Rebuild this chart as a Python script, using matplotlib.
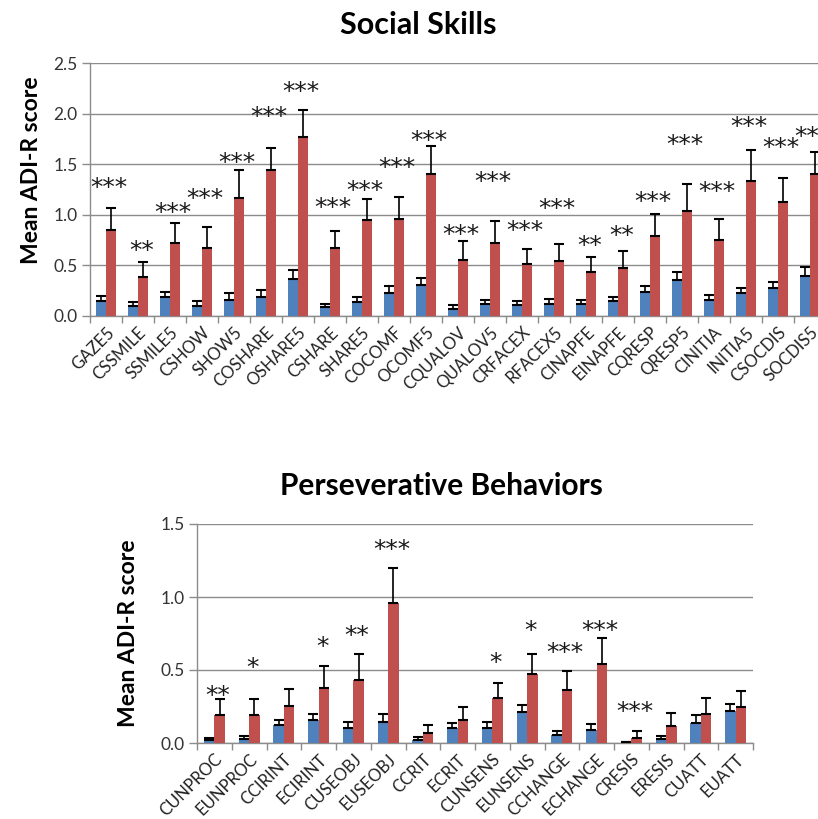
import numpy as np
import matplotlib
matplotlib.use("Agg")
import matplotlib.pyplot as plt
from matplotlib.ticker import FixedLocator

plt.rcParams['font.family'] = ['Lato', 'DejaVu Sans']

# ---- Social Skills data ----
social_labels = ["GAZE5", "CSSMILE", "SSMILE5", "CSHOW", "SHOW5", "COSHARE", "OSHARE5",
                 "CSHARE", "SHARE5", "COCOMF", "OCOMF5", "CQUALOV", "QUALOV5", "CRFACEX",
                 "RFACEX5", "CINAPFE", "EINAPFE", "CQRESP", "QRESP5", "CINITIA", "INITIA5",
                 "CSOCDIS", "SOCDIS5"]
social_blue = [0.15, 0.10, 0.19, 0.10, 0.16, 0.19, 0.37, 0.09, 0.14, 0.23, 0.31, 0.07,
               0.12, 0.11, 0.12, 0.12, 0.15, 0.24, 0.36, 0.16, 0.23, 0.28, 0.40]
social_blue_err = [0.05, 0.035, 0.05, 0.05, 0.065, 0.065, 0.08, 0.03, 0.05, 0.065, 0.07, 0.04,
                   0.04, 0.04, 0.05, 0.04, 0.035, 0.055, 0.07, 0.05, 0.05, 0.055, 0.08]
social_red = [0.85, 0.39, 0.72, 0.67, 1.17, 1.44, 1.77, 0.67, 0.95, 0.96, 1.40, 0.55,
              0.72, 0.51, 0.54, 0.43, 0.47, 0.79, 1.04, 0.75, 1.33, 1.13, 1.40]
social_red_err = [0.22, 0.14, 0.20, 0.21, 0.27, 0.22, 0.27, 0.17, 0.21, 0.22, 0.28, 0.19,
                  0.22, 0.15, 0.17, 0.15, 0.17, 0.22, 0.26, 0.21, 0.31, 0.23, 0.22]
social_sig = ["***", "**", "***", "***", "***", "***", "***", "***", "***", "***", "***", "***",
              "***", "***", "***", "**", "**", "***", "***", "***", "***", "***", "***"]
social_sig_y = [1.34, 0.72, 1.10, 1.24, 1.59, 2.05, 2.29, 1.15, 1.31, 1.54, 1.81, 0.88,
                1.40, 0.92, 1.14, 0.77, 0.87, 1.21, 1.77, 1.30, 1.95, 1.74, 1.85]

# ---- Perseverative Behaviors data ----
pers_labels = ["CUNPROC", "EUNPROC", "CCIRINT", "ECIRINT", "CUSEOBJ", "EUSEOBJ", "CCRIT",
               "ECRIT", "CUNSENS", "EUNSENS", "CCHANGE", "ECHANGE", "CRESIS", "ERESIS",
               "CUATT", "EUATT"]
pers_blue = [0.02, 0.03, 0.12, 0.155, 0.10, 0.146, 0.023, 0.10, 0.10, 0.21, 0.052, 0.087,
             0.004, 0.025, 0.137, 0.217]
pers_blue_err = [0.015, 0.02, 0.035, 0.045, 0.045, 0.055, 0.017, 0.035, 0.045, 0.05, 0.028,
                 0.04, 0.002, 0.025, 0.053, 0.053]
pers_red = [0.19, 0.19, 0.255, 0.38, 0.43, 0.96, 0.068, 0.155, 0.31, 0.47, 0.365, 0.54,
            0.032, 0.116, 0.198, 0.244]
pers_red_err = [0.11, 0.11, 0.115, 0.15, 0.18, 0.24, 0.055, 0.095, 0.10, 0.14, 0.125, 0.18,
                0.048, 0.09, 0.11, 0.11]
pers_sig = ["**", "*", "", "*", "**", "***", "", "", "*", "*", "***", "***", "***", "", "", ""]
pers_sig_y = [0.38, 0.57, 0, 0.71, 0.79, 1.375, 0, 0, 0.60, 0.82, 0.67, 0.82, 0.27, 0, 0, 0]

BLUE = "#4F81BD"
RED = "#C0504D"
GRID = "#8C8C8C"
STAR_SIZE = 18


def draw_panel(ax, labels, blue, blue_err, red, red_err, sig, sig_y, ymax):
    n = len(labels)
    x = np.arange(n)
    w = 0.3
    ekw = dict(ecolor="black", elinewidth=1.2, capsize=3.5, capthick=1.5)
    ax.bar(x - w / 2, blue, w, color=BLUE, zorder=3,
           yerr=[np.zeros(n), blue_err], error_kw=ekw)
    ax.bar(x + w / 2, red, w, color=RED, zorder=3,
           yerr=[np.zeros(n), red_err], error_kw=ekw)
    for i in range(n):
        if sig[i]:
            # asterisks sit high in the glyph box, shift the baseline down
            ax.annotate(sig[i], (x[i] + 0.1, sig_y[i]), xytext=(0, -0.6 * STAR_SIZE),
                        textcoords="offset points", ha="center", va="baseline",
                        fontsize=STAR_SIZE, family="DejaVu Sans", color="#1a1a1a",
                        zorder=4, annotation_clip=False)
    ax.set_xlim(-0.5, n - 0.5)
    ax.set_ylim(0, ymax)
    yt = np.arange(0, ymax + 0.01, 0.5)
    ax.set_yticks(yt)
    ax.set_yticklabels([f"{v:.1f}" for v in yt])
    ax.yaxis.grid(True, color=GRID, linewidth=1.0, zorder=0)
    ax.set_axisbelow(True)
    ax.set_xticks(x)
    ax.set_xticklabels(labels, rotation=45, ha="right", rotation_mode="anchor",
                       fontsize=12, color="#222222")
    ax.xaxis.set_minor_locator(FixedLocator(np.arange(n + 1) - 0.5))
    ax.tick_params(axis="x", which="major", length=0, pad=6)
    ax.tick_params(axis="x", which="minor", length=5, color=GRID, width=1)
    ax.tick_params(axis="y", length=6, color=GRID, width=1, labelsize=12.5,
                   labelcolor="#333333", pad=3)
    for s in ["top", "right"]:
        ax.spines[s].set_visible(False)
    for s in ["left", "bottom"]:
        ax.spines[s].set_color(GRID)
        ax.spines[s].set_linewidth(1.0)
    ax.set_ylabel("Mean ADI-R score", fontsize=16.5, fontweight="bold")


fig = plt.figure(figsize=(8.18, 8.19), dpi=100)

ax1 = fig.add_axes([90 / 818, 1 - 316 / 819, 736 / 818, 253 / 819])
draw_panel(ax1, social_labels, social_blue, social_blue_err, social_red, social_red_err,
           social_sig, social_sig_y, 2.5)
ax1.yaxis.set_label_coords(-48 / 736, 0.575)

ax2 = fig.add_axes([197 / 818, 1 - 743 / 819, 556 / 818, 219 / 819])
draw_panel(ax2, pers_labels, pers_blue, pers_blue_err, pers_red, pers_red_err,
           pers_sig, pers_sig_y, 1.5)
ax2.yaxis.set_label_coords(-58 / 556, 0.5)

fig.text(418 / 818, 1 - 25 / 819, "Social Skills", ha="center", va="center",
         fontsize=22, fontweight="bold")
fig.text(441 / 818, 1 - 486 / 819, "Perseverative Behaviors", ha="center", va="center",
         fontsize=21.5, fontweight="bold")

fig.savefig("out.png", dpi=100)
